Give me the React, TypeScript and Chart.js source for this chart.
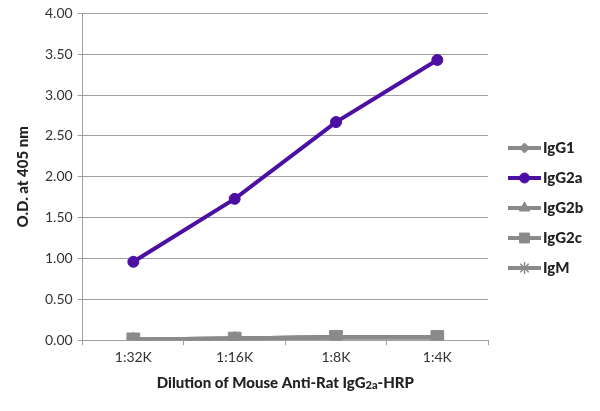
import React, { useEffect, useRef } from "react";
import { Chart, registerables } from "chart.js";
import { drawPoint } from "chart.js/helpers";

Chart.register(...registerables);

const categories = ["1:32K", "1:16K", "1:8K", "1:4K"];
const igG1 = [0.01, 0.02, 0.04, 0.04];
const igG2a = [0.96, 1.73, 2.67, 3.43];
const igG2b = [0.01, 0.02, 0.04, 0.04];
const igG2c = [0.01, 0.02, 0.04, 0.04];
const igM = [0.01, 0.02, 0.03, 0.03];
const yTicks = [0, 0.5, 1, 1.5, 2, 2.5, 3, 3.5, 4];

const FONT = "Lato, 'Open Sans', sans-serif";
const GRAY = "#8a8a8a";
const PURPLE = "#4b0fa3";

const legendPlugin = {
  id: "customLegend",
  afterDraw(chart: any) {
    const ctx = chart.ctx;
    const items = chart.data.datasets;
    ctx.save();
    items.forEach((ds: any, i: number) => {
      const y = 148 + i * 30;
      const x0 = 508;
      const x1 = 541;
      ctx.strokeStyle = ds.borderColor;
      ctx.lineWidth = 4;
      ctx.beginPath();
      ctx.moveTo(x0, y);
      ctx.lineTo(x1, y);
      ctx.stroke();
      ctx.fillStyle = ds.borderColor;
      ctx.strokeStyle = ds.borderColor;
      ctx.lineWidth = ds.pointStyle === "star" ? 1.5 : 1;
      drawPoint(
        ctx,
        {
          pointStyle: ds.pointStyle,
          radius: ds.legendRadius,
          borderWidth: ds.pointStyle === "star" ? 1.5 : 1,
          rotation: 0,
        } as any,
        (x0 + x1) / 2,
        y
      );
      ctx.fillStyle = "#222";
      ctx.font = `900 15px ${FONT}`;
      ctx.textAlign = "left";
      ctx.textBaseline = "middle";
      ctx.fillText(ds.label, 543, y);
    });
    ctx.restore();
  },
};

const xTitlePlugin = {
  id: "xTitle",
  afterDraw(chart: any) {
    const ctx = chart.ctx;
    const area = chart.chartArea;
    const cx = (area.left + area.right) / 2;
    const y = 383;
    const p1 = "Dilution of Mouse Anti-Rat IgG";
    const sub = "2a";
    const p2 = "-HRP";
    ctx.save();
    ctx.fillStyle = "#222";
    ctx.textBaseline = "middle";
    ctx.textAlign = "left";
    const big = `900 15px ${FONT}`;
    const small = `900 11px ${FONT}`;
    ctx.font = big;
    const w1 = ctx.measureText(p1).width;
    const w3 = ctx.measureText(p2).width;
    ctx.font = small;
    const w2 = ctx.measureText(sub).width;
    let x = cx - (w1 + w2 + w3) / 2;
    ctx.font = big;
    ctx.fillText(p1, x, y);
    x += w1;
    ctx.font = small;
    ctx.fillText(sub, x, y + 2);
    x += w2;
    ctx.font = big;
    ctx.fillText(p2, x, y);
    ctx.restore();
  },
};

export default function App() {
  const ref = useRef<HTMLCanvasElement | null>(null);
  useEffect(() => {
    document.body.style.margin = "0";
    const mk = (label: string, data: number[], color: string, style: string, r: number, lr: number, order: number) => ({
      label,
      data,
      borderColor: color,
      backgroundColor: color,
      pointBackgroundColor: color,
      pointBorderColor: color,
      borderWidth: 4,
      pointStyle: style,
      pointRadius: r,
      legendRadius: lr,
      pointBorderWidth: style === "star" ? 1.5 : 1,
      order,
    });
    const chart = new Chart(ref.current as HTMLCanvasElement, {
      type: "line",
      data: {
        labels: categories,
        datasets: [
          mk("IgG1", igG1, GRAY, "rectRot", 6, 5, 5),
          mk("IgG2a", igG2a, PURPLE, "circle", 5.5, 5, 0),
          mk("IgG2b", igG2b, GRAY, "triangle", 7, 6, 4),
          mk("IgG2c", igG2c, GRAY, "rect", 9, 7, 1),
          mk("IgM", igM, GRAY, "star", 6, 6, 3),
        ] as any,
      },
      plugins: [legendPlugin, xTitlePlugin],
      options: {
        animation: false,
        responsive: false,
        layout: { padding: { top: 10, right: 112, bottom: 19, left: 14 } },
        plugins: { legend: { display: false }, tooltip: { enabled: false } },
        scales: {
          x: {
            offset: true,
            grid: {
              offset: true,
              drawOnChartArea: false,
              drawTicks: true,
              tickLength: 5,
              color: "#a0a0a0",
            },
            border: { color: "#a0a0a0", width: 1 },
            ticks: { color: "#333", font: { family: FONT, size: 14 }, padding: 4 },
            title: {
              display: true,
              text: "Dilution of Mouse Anti-Rat IgG2a-HRP",
              color: "transparent",
              font: { family: FONT, size: 15, weight: "bold" },
              padding: { top: 4, bottom: 0 },
            },
          },
          y: {
            min: 0,
            max: 4,
            afterBuildTicks: (s: any) => {
              s.ticks = yTicks.map((v) => ({ value: v }));
            },
            grid: { color: "#a0a0a0", tickLength: 5, lineWidth: 1 },
            border: { color: "#a0a0a0", width: 1 },
            ticks: {
              color: "#333",
              font: { family: FONT, size: 14 },
              padding: 5,
              callback: (v: any) => Number(v).toFixed(2),
            },
            title: {
              display: true,
              text: "O.D. at 405 nm",
              color: "#222",
              font: { family: FONT, size: 15, weight: "900" },
              padding: { top: 0, bottom: 8 },
            },
          },
        },
      } as any,
    });
    return () => chart.destroy();
  }, []);
  return <canvas ref={ref} width={600} height={411} style={{ display: "block" }} />;
}
